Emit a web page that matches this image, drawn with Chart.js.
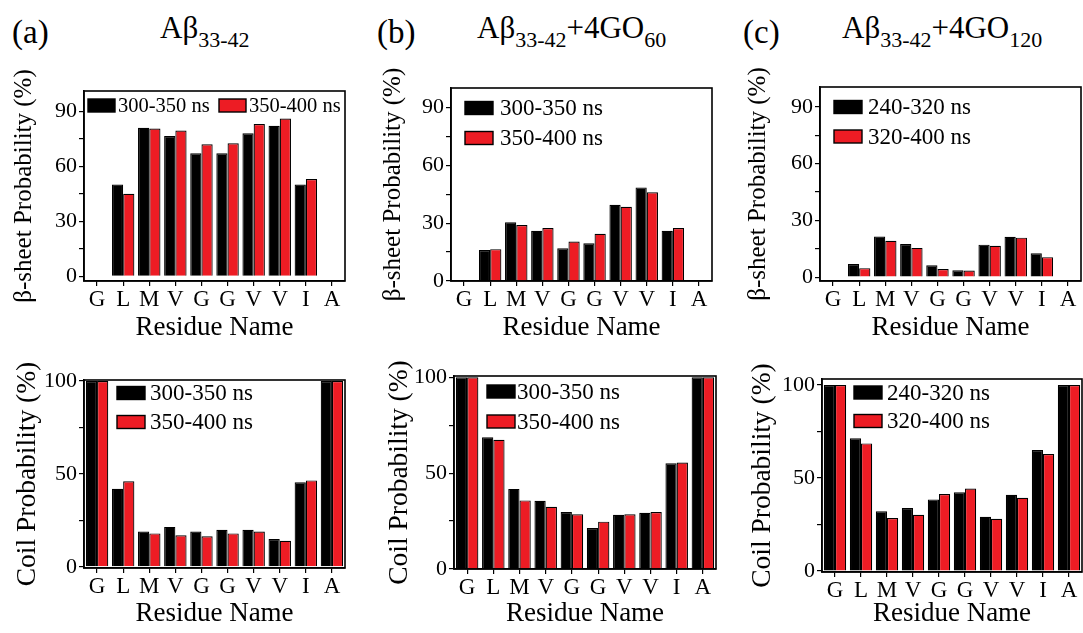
<!DOCTYPE html>
<html>
<head>
<meta charset="utf-8">
<script src="https://cdn.jsdelivr.net/npm/chart.js@4.4.0/dist/chart.umd.min.js"></script>
<style>
  html, body { margin: 0; padding: 0; background: #fff; }
  body { width: 1083px; height: 633px; position: relative; overflow: hidden;
         font-family: 'Liberation Serif', 'Times New Roman', serif; color: #000; }
  canvas { position: absolute; }
  .hd { position: absolute; font-size: 31px; line-height: 31px; white-space: nowrap; }
  .hd .sub { font-size: 22px; position: relative; top: 9px; }
  .lab { font-size: 33px; }
</style>
</head>
<body>
<div class="hd lab" style="left:12px; top:17px;">(a)</div>
<div class="hd" style="left:160px; top:12px;">Aβ<span class="sub">33-42</span></div>
<div class="hd lab" style="left:377px; top:17px;">(b)</div>
<div class="hd" style="left:477px; top:12px;">Aβ<span class="sub">33-42</span>+4GO<span class="sub">60</span></div>
<div class="hd lab" style="left:743px; top:17px;">(c)</div>
<div class="hd" style="left:842px; top:12px;">Aβ<span class="sub">33-42</span>+4GO<span class="sub">120</span></div>

<canvas id="sheetA" width="355" height="285" style="left:0px; top:60px;"></canvas>
<canvas id="sheetB" width="355" height="285" style="left:365px; top:60px;"></canvas>
<canvas id="sheetC" width="355" height="285" style="left:728px; top:60px;"></canvas>
<canvas id="coilA" width="355" height="288" style="left:0px; top:345px;"></canvas>
<canvas id="coilB" width="355" height="288" style="left:365px; top:345px;"></canvas>
<canvas id="coilC" width="355" height="288" style="left:728px; top:345px;"></canvas>

<script>
// residues along the x axis
const residues = ['G', 'L', 'M', 'V', 'G', 'G', 'V', 'V', 'I', 'A'];

// legend labels
const windowsAB = ['300-350 ns', '350-400 ns'];
const windowsC = ['240-320 ns', '320-400 ns'];

// beta-sheet probability (%)
const sheetA1 = [0, 50, 81, 76.5, 67, 67, 78, 82, 50, 0];
const sheetA2 = [0, 45, 80.5, 79.5, 72, 72.5, 83, 86, 53, 0];
const sheetB1 = [0, 16, 30.5, 26, 17, 19.5, 39.5, 48.5, 26, 0];
const sheetB2 = [0, 16.5, 29, 27.5, 20.5, 24.5, 38.5, 46, 27.5, 0];
const sheetC1 = [0, 7, 21.5, 17.5, 6.3, 3.7, 17.2, 21.4, 12.7, 0];
const sheetC2 = [0, 4.8, 19.3, 15.5, 4.3, 3.5, 16.6, 20.9, 10.6, 0];

// coil probability (%)
const coilA1 = [100, 42, 19, 21.5, 19, 20, 20, 15, 45.5, 100];
const coilA2 = [100, 46, 18, 17, 16.5, 18, 19, 14, 46.5, 100];
const coilB1 = [100, 68.8, 41.8, 35.6, 29.7, 21.4, 28.3, 29.3, 55.2, 100];
const coilB2 = [100, 67.4, 35.8, 32.5, 28.6, 24.7, 28.6, 29.7, 55.6, 100];
const coilC1 = [100, 71.3, 32.1, 33.9, 38.5, 42.3, 29.2, 41, 65, 100];
const coilC2 = [100, 68.6, 28.5, 30.3, 41.4, 44.4, 28.1, 39.4, 62.9, 100];

// y ticks (major ones get a label)
const sheetTicks = [0, 15, 30, 45, 60, 75, 90];
const coilTicks = [0, 25, 50, 75, 100];

const SERIF = "'Liberation Serif', 'Times New Roman', serif";
const RED = '#ed1c24';

Chart.defaults.font.family = SERIF;
Chart.defaults.color = '#000';

// box around the plot area
const framePlugin = {
    id: 'frame',
    afterDraw(chart) {
        const { ctx, chartArea: a } = chart;
        ctx.save();
        ctx.strokeStyle = '#000';
        ctx.lineWidth = 1.6;
        ctx.strokeRect(a.left, a.top, a.right - a.left, a.bottom - a.top);
        ctx.restore();
    }
};

// legend drawn inside the plot area
const insideLegend = {
    id: 'insideLegend',
    afterDraw(chart, args, opts) {
        const { ctx, chartArea: a } = chart;
        ctx.save();
        ctx.font = opts.size + 'px ' + SERIF;
        ctx.textBaseline = 'middle';
        ctx.textAlign = 'left';
        chart.data.datasets.forEach((ds, i) => {
            const x = a.left + opts.xs[i];
            const y = a.top + opts.ys[i];
            ctx.fillStyle = ds.backgroundColor;
            ctx.fillRect(x, y - opts.boxH / 2, opts.boxW, opts.boxH);
            ctx.strokeStyle = '#000';
            ctx.lineWidth = 1.4;
            ctx.strokeRect(x, y - opts.boxH / 2, opts.boxW, opts.boxH);
            ctx.fillStyle = '#000';
            ctx.fillText(ds.label, x + opts.boxW + opts.gap, y + 1);
        });
        ctx.restore();
    }
};

function makePanel(id, p) {
    return new Chart(document.getElementById(id), {
        type: 'bar',
        data: {
            labels: residues,
            datasets: [{
                label: p.labels[0],
                data: p.series[0],
                backgroundColor: '#000',
                borderColor: '#000',
                borderWidth: 1.2,
            }, {
                label: p.labels[1],
                data: p.series[1],
                backgroundColor: RED,
                borderColor: '#000',
                borderWidth: 1.2,
            }],
        },
        options: {
            responsive: false,
            animation: false,
            devicePixelRatio: 1,
            layout: { padding: { left: 0, top: p.padTop, right: p.padRight, bottom: 0 } },
            datasets: { bar: { barPercentage: 1, categoryPercentage: 0.86 } },
            plugins: {
                legend: { display: false },
                tooltip: { enabled: false },
                insideLegend: p.legend,
            },
            scales: {
                x: {
                    grid: { offset: false, drawOnChartArea: false, tickLength: 5, color: '#000', lineWidth: 1.2 },
                    border: { color: '#000', width: 1.6 },
                    ticks: { color: '#000', font: { size: 23 }, padding: 0, maxRotation: 0, autoSkip: false },
                    title: {
                        display: true, text: 'Residue Name', color: '#000',
                        font: { size: 27, lineHeight: 1 },
                        padding: { top: 0, bottom: p.xTitlePad },
                    },
                    afterFit: (s) => { s.height = p.xHeight; },
                },
                y: {
                    min: p.min,
                    max: p.max,
                    afterBuildTicks: (s) => { s.ticks = p.ticks.map(v => ({ value: v })); },
                    grid: { drawOnChartArea: false, tickLength: 5, color: '#000', lineWidth: 1.2 },
                    border: { color: '#000', width: 1.6 },
                    ticks: {
                        color: '#000', font: { size: 22 }, padding: 2,
                        callback: (v) => (v % p.major === 0 ? String(v) : ''),
                    },
                    title: {
                        display: true, text: p.yTitle, color: '#000',
                        font: { size: p.yTitleSize, lineHeight: 1 },
                        padding: { top: p.yTitleX - p.yTitleSize / 2, bottom: 0 },
                    },
                    afterFit: (s) => { s.width = p.yWidth; },
                },
            },
        },
        plugins: [framePlugin, insideLegend],
    });
}

const colLegend = (x, y1, y2, gap) => ({ xs: [x, x], ys: [y1, y2], boxW: 28, boxH: 13, gap: gap, size: 23 });
const sheetTitle = 'β-sheet Probability (%)';
const coilTitle = 'Coil Probability (%)';

makePanel('sheetA', {
    labels: windowsAB, series: [sheetA1, sheetA2], ticks: sheetTicks, major: 30,
    min: -2.6, max: 101, padTop: 31, padRight: 10, yWidth: 84, xHeight: 64, xTitlePad: 4,
    yTitle: sheetTitle, yTitleSize: 25, yTitleX: 24,
    legend: { xs: [4, 135], ys: [14.5, 14.5], boxW: 27, boxH: 13, gap: 3, size: 20.5 },
});
makePanel('sheetB', {
    labels: windowsAB, series: [sheetB1, sheetB2], ticks: sheetTicks, major: 30,
    min: 0, max: 100, padTop: 28, padRight: 8, yWidth: 86, xHeight: 64, xTitlePad: 4,
    yTitle: sheetTitle, yTitleSize: 25, yTitleX: 28,
    legend: colLegend(14, 20, 50, 7),
});
makePanel('sheetC', {
    labels: windowsC, series: [sheetC1, sheetC2], ticks: sheetTicks, major: 30,
    min: -2, max: 100.5, padTop: 27, padRight: 2, yWidth: 92, xHeight: 64, xTitlePad: 4,
    yTitle: sheetTitle, yTitleSize: 25, yTitleX: 30,
    legend: colLegend(14, 20, 49.5, 6),
});
makePanel('coilA', {
    labels: windowsAB, series: [coilA1, coilA2], ticks: coilTicks, major: 50,
    min: -0.6, max: 100.5, padTop: 35, padRight: 10, yWidth: 84, xHeight: 65, xTitlePad: 6,
    yTitle: coilTitle, yTitleSize: 27.5, yTitleX: 28,
    legend: colLegend(33, 13, 42, 5),
});
makePanel('coilB', {
    labels: windowsAB, series: [coilB1, coilB2], ticks: coilTicks, major: 50,
    min: 0, max: 100.7, padTop: 31, padRight: 4, yWidth: 89, xHeight: 64, xTitlePad: 6,
    yTitle: coilTitle, yTitleSize: 27.5, yTitleX: 35,
    legend: colLegend(33, 15.5, 45.5, 2),
});
makePanel('coilC', {
    labels: windowsC, series: [coilC1, coilC2], ticks: coilTicks, major: 50,
    min: -0.5, max: 103.2, padTop: 34, padRight: 1, yWidth: 94, xHeight: 61, xTitlePad: 6,
    yTitle: coilTitle, yTitleSize: 27.5, yTitleX: 35,
    legend: colLegend(32, 13.5, 42, 5),
});
</script>
</body>
</html>
